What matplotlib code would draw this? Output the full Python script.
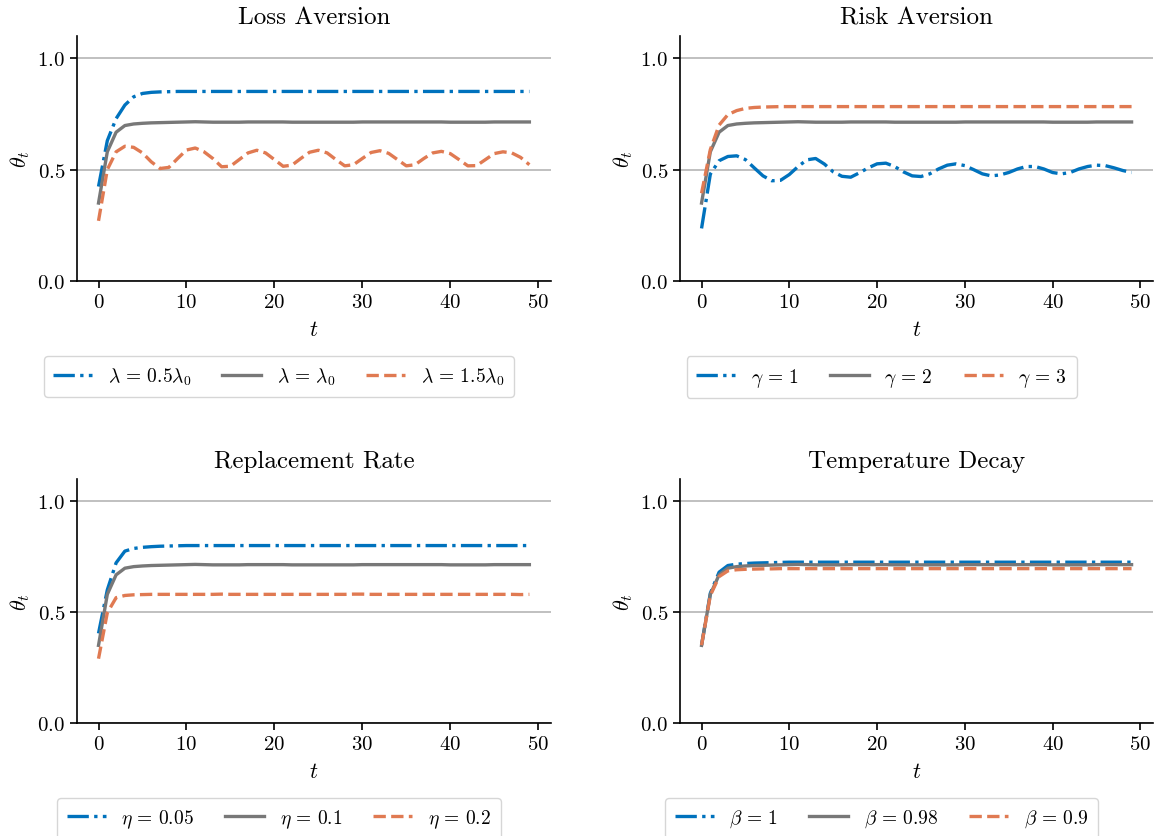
import matplotlib
matplotlib.use("Agg")
import matplotlib.pyplot as plt

plt.rcParams["font.family"] = "serif"
plt.rcParams["font.serif"] = ["cmr10"]
plt.rcParams["mathtext.fontset"] = "cm"
plt.rcParams["axes.formatter.use_mathtext"] = True
plt.rcParams["font.size"] = 15

t = list(range(50))

# curva de referencia (cinza), igual nos quatro paineis
theta_base = [
    0.350, 0.580, 0.668, 0.698, 0.705, 0.708, 0.710, 0.711, 0.712, 0.713,
    0.714, 0.715, 0.714, 0.713, 0.713, 0.713, 0.713, 0.714, 0.714, 0.714,
    0.714, 0.714, 0.713, 0.713, 0.713, 0.713, 0.713, 0.713, 0.713, 0.713,
    0.714, 0.714, 0.714, 0.714, 0.714, 0.714, 0.714, 0.714, 0.714, 0.714,
    0.713, 0.713, 0.713, 0.713, 0.713, 0.714, 0.714, 0.714, 0.714, 0.714,
]

loss_low = [
    0.424, 0.630, 0.729, 0.790, 0.827, 0.842, 0.847, 0.849, 0.850, 0.851,
    0.851, 0.851, 0.851, 0.851, 0.851, 0.851, 0.851, 0.851, 0.851, 0.851,
    0.851, 0.851, 0.851, 0.851, 0.851, 0.851, 0.851, 0.851, 0.851, 0.851,
    0.851, 0.851, 0.851, 0.851, 0.851, 0.851, 0.851, 0.851, 0.851, 0.851,
    0.851, 0.851, 0.851, 0.851, 0.851, 0.851, 0.851, 0.851, 0.851, 0.851,
]
loss_high = [
    0.270, 0.500, 0.580, 0.605, 0.600, 0.575, 0.535, 0.505, 0.510, 0.550,
    0.588, 0.597, 0.580, 0.550, 0.513, 0.515, 0.545, 0.575, 0.587, 0.575,
    0.545, 0.515, 0.520, 0.550, 0.578, 0.587, 0.575, 0.545, 0.517, 0.522,
    0.550, 0.577, 0.585, 0.573, 0.545, 0.517, 0.522, 0.550, 0.575, 0.582,
    0.572, 0.545, 0.517, 0.518, 0.545, 0.572, 0.580, 0.575, 0.555, 0.522,
]

risk_g1 = [
    0.236, 0.480, 0.540, 0.559, 0.562, 0.545, 0.508, 0.472, 0.450, 0.452,
    0.478, 0.514, 0.544, 0.550, 0.525, 0.490, 0.470, 0.466, 0.486, 0.508,
    0.526, 0.529, 0.514, 0.490, 0.472, 0.469, 0.481, 0.503, 0.520, 0.526,
    0.518, 0.500, 0.481, 0.472, 0.476, 0.487, 0.503, 0.514, 0.514, 0.503,
    0.487, 0.481, 0.487, 0.503, 0.514, 0.520, 0.518, 0.508, 0.496, 0.487,
]
risk_g3 = [
    0.394, 0.590, 0.700, 0.747, 0.765, 0.775, 0.779, 0.781, 0.782, 0.783,
    0.783, 0.783, 0.783, 0.783, 0.783, 0.783, 0.783, 0.783, 0.783, 0.783,
    0.783, 0.783, 0.783, 0.783, 0.783, 0.783, 0.783, 0.783, 0.783, 0.783,
    0.783, 0.783, 0.783, 0.783, 0.783, 0.783, 0.783, 0.783, 0.783, 0.783,
    0.783, 0.783, 0.783, 0.783, 0.783, 0.783, 0.783, 0.783, 0.783, 0.783,
]

repl_005 = [
    0.404, 0.600, 0.722, 0.775, 0.787, 0.792, 0.795, 0.797, 0.798, 0.799,
    0.800, 0.800, 0.800, 0.800, 0.800, 0.800, 0.800, 0.800, 0.800, 0.800,
    0.800, 0.800, 0.800, 0.800, 0.800, 0.800, 0.800, 0.800, 0.800, 0.800,
    0.800, 0.800, 0.800, 0.800, 0.800, 0.800, 0.800, 0.800, 0.800, 0.800,
    0.800, 0.800, 0.800, 0.800, 0.800, 0.800, 0.800, 0.800, 0.800, 0.800,
]
repl_02 = [
    0.290, 0.497, 0.565, 0.575, 0.578, 0.579, 0.580, 0.580, 0.580, 0.580,
    0.580, 0.580, 0.580, 0.580, 0.581, 0.580, 0.580, 0.580, 0.580, 0.580,
    0.580, 0.580, 0.580, 0.580, 0.580, 0.580, 0.580, 0.580, 0.580, 0.581,
    0.581, 0.580, 0.580, 0.580, 0.580, 0.580, 0.580, 0.580, 0.580, 0.580,
    0.580, 0.580, 0.580, 0.580, 0.580, 0.580, 0.580, 0.580, 0.579, 0.580,
]

temp_b1 = [
    0.351, 0.585, 0.680, 0.710, 0.716, 0.719, 0.721, 0.722, 0.723, 0.724,
    0.725, 0.725, 0.725, 0.725, 0.725, 0.725, 0.725, 0.725, 0.725, 0.725,
    0.725, 0.725, 0.725, 0.725, 0.725, 0.725, 0.725, 0.725, 0.725, 0.725,
    0.725, 0.725, 0.725, 0.725, 0.725, 0.725, 0.725, 0.725, 0.725, 0.725,
    0.725, 0.725, 0.725, 0.725, 0.725, 0.725, 0.725, 0.725, 0.725, 0.725,
]
temp_b09 = [
    0.351, 0.575, 0.660, 0.686, 0.691, 0.693, 0.694, 0.695, 0.695, 0.696,
    0.696, 0.696, 0.696, 0.696, 0.696, 0.696, 0.696, 0.696, 0.696, 0.696,
    0.696, 0.696, 0.696, 0.696, 0.696, 0.696, 0.696, 0.696, 0.696, 0.696,
    0.696, 0.696, 0.696, 0.696, 0.696, 0.696, 0.696, 0.696, 0.696, 0.696,
    0.696, 0.696, 0.696, 0.696, 0.696, 0.696, 0.696, 0.696, 0.696, 0.696,
]

titulos = ["Loss Aversion", "Risk Aversion", "Replacement Rate", "Temperature Decay"]
series = [
    (loss_low, theta_base, loss_high),
    (risk_g1, theta_base, risk_g3),
    (repl_005, theta_base, repl_02),
    (temp_b1, theta_base, temp_b09),
]
rotulos = [
    [r"$\lambda \,=\, 0.5\lambda_0$", r"$\lambda \,=\, \lambda_0$", r"$\lambda \,=\, 1.5\lambda_0$"],
    [r"$\gamma \,=\, 1$", r"$\gamma \,=\, 2$", r"$\gamma \,=\, 3$"],
    [r"$\eta \,=\, 0.05$", r"$\eta \,=\, 0.1$", r"$\eta \,=\, 0.2$"],
    [r"$\beta \,=\, 1$", r"$\beta \,=\, 0.98$", r"$\beta \,=\, 0.9$"],
]

cores = ["#0072BD", "#787878", "#E07A52"]
estilos = ["-.", "-", "--"]

posicoes = [
    [0.0667, 0.6631, 0.4107, 0.2927],
    [0.5893, 0.6631, 0.4099, 0.2927],
    [0.0667, 0.1350, 0.4107, 0.2915],
    [0.5893, 0.1350, 0.4099, 0.2915],
]

fig = plt.figure(figsize=(11.54, 8.37), dpi=100)

for i in range(4):
    ax = fig.add_axes(posicoes[i])
    for y, cor, ls, rot in zip(series[i], cores, estilos, rotulos[i]):
        ax.plot(t, y, color=cor, linestyle=ls, linewidth=2.4, label=rot)

    ax.set_ylim(0, 1.1)
    ax.set_yticks([0.0, 0.5, 1.0])
    ax.set_xticks([0, 10, 20, 30, 40, 50])
    ax.yaxis.grid(True, color="#b5b5b5", linewidth=1.2)
    ax.set_axisbelow(True)
    ax.spines["top"].set_visible(False)
    ax.spines["right"].set_visible(False)
    ax.tick_params(direction="out", length=5, width=1.2, labelsize=15)
    ax.spines["left"].set_linewidth(1.2)
    ax.spines["bottom"].set_linewidth(1.2)

    ax.set_title(titulos[i], fontsize=18, pad=9)
    ax.set_xlabel(r"$t$", fontsize=16, labelpad=6)
    ax.set_ylabel(r"$\theta_t$", fontsize=16)
    ax.legend(loc="upper center", bbox_to_anchor=(0.426, -0.266), ncol=3,
              fontsize=14, handlelength=2.0, columnspacing=1.6, borderpad=0.5)

fig.savefig("out.png", dpi=100)
